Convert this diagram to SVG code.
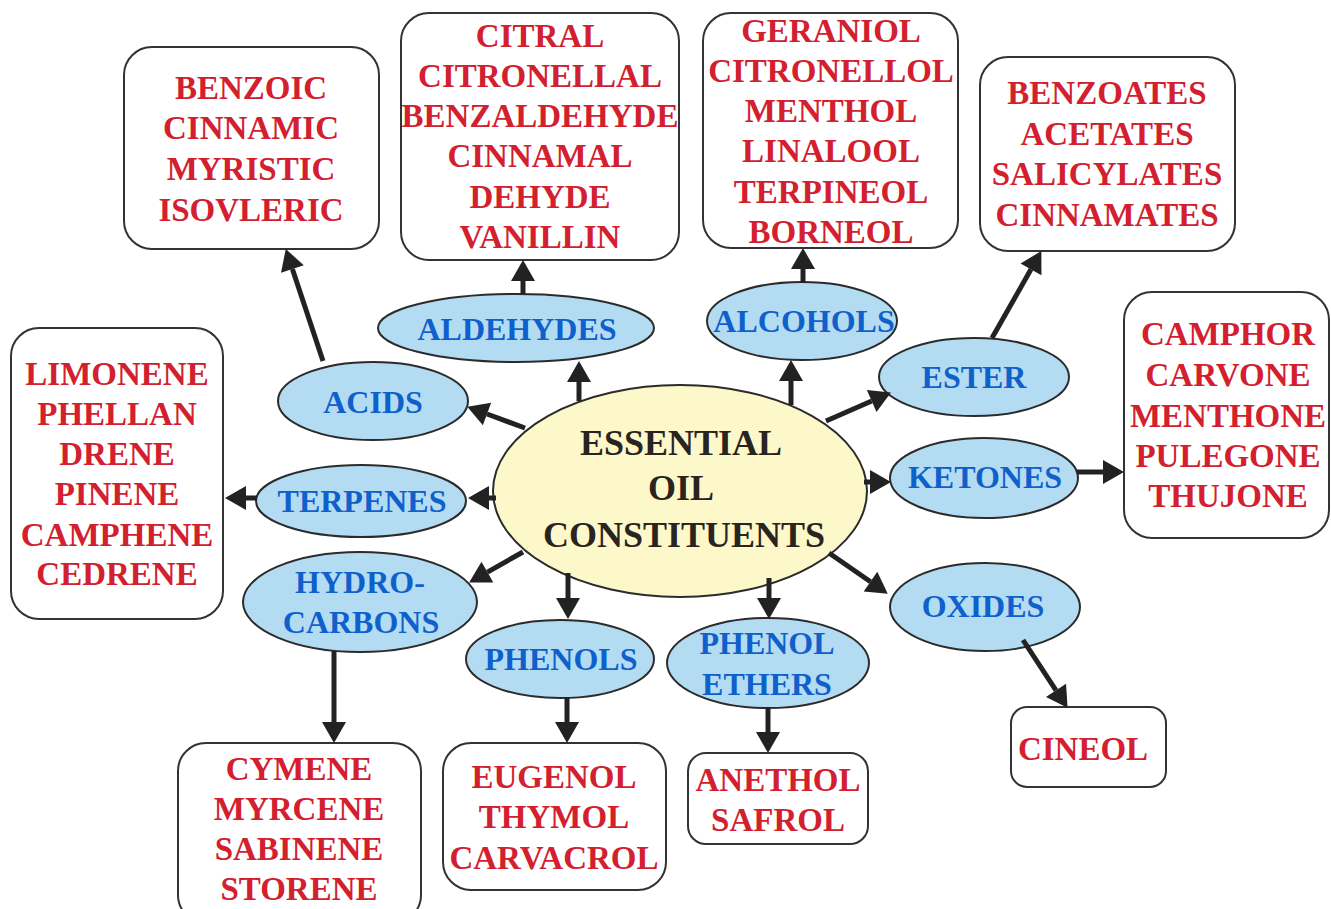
<svg xmlns="http://www.w3.org/2000/svg" width="1331" height="909" viewBox="0 0 1331 909">
<defs>
<style>
.bg{fill:#ffffff}
.box{fill:#ffffff;stroke:#333333;stroke-width:2}
.oval{fill:#b3dcf3;stroke:#2b2b2b;stroke-width:2}
.core{fill:#fcf8c9;stroke:#2b2b2b;stroke-width:2}
.red{font-family:"Liberation Serif","Times New Roman",serif;font-weight:bold;font-size:33px;fill:#d3202f;text-anchor:middle}
.blue{font-family:"Liberation Serif","Times New Roman",serif;font-weight:bold;font-size:32px;fill:#1060cc;text-anchor:middle}
.dark{font-family:"Liberation Serif","Times New Roman",serif;font-weight:bold;font-size:36px;fill:#2a2420;text-anchor:middle}
.con{stroke:#222222;stroke-width:5;fill:none;marker-end:url(#ah)}
</style>
<marker id="ah" markerUnits="userSpaceOnUse" markerWidth="21" markerHeight="24" refX="0" refY="12" orient="auto" overflow="visible">
<path d="M0,0 L21,12 L0,24 Z" fill="#222222"/>
</marker>
</defs>
<rect class="bg" x="0" y="0" width="1331" height="909"/>

<g id="center">
<ellipse class="core" cx="680" cy="491" rx="187" ry="106"/>
<text class="dark" x="681" y="455">ESSENTIAL</text>
<text class="dark" x="681" y="500">OIL</text>
<text class="dark" x="684" y="547">CONSTITUENTS</text>
</g>

<g id="acids">
<ellipse class="oval" cx="373" cy="401" rx="95" ry="39"/>
<text class="blue" x="373" y="413">ACIDS</text>
</g>
<g id="aldehydes">
<ellipse class="oval" cx="516" cy="328" rx="138" ry="34"/>
<text class="blue" x="517" y="340">ALDEHYDES</text>
</g>
<g id="alcohols">
<ellipse class="oval" cx="802" cy="321" rx="95" ry="39"/>
<text class="blue" x="804" y="332">ALCOHOLS</text>
</g>
<g id="ester">
<ellipse class="oval" cx="974" cy="377" rx="95" ry="39"/>
<text class="blue" x="974" y="388">ESTER</text>
</g>
<g id="ketones">
<ellipse class="oval" cx="984" cy="478" rx="94" ry="40"/>
<text class="blue" x="985" y="488">KETONES</text>
</g>
<g id="oxides">
<ellipse class="oval" cx="985" cy="607" rx="95" ry="44"/>
<text class="blue" x="983" y="617">OXIDES</text>
</g>
<g id="phenol-ethers">
<ellipse class="oval" cx="768" cy="663" rx="101" ry="45"/>
<text class="blue" x="767" y="654">PHENOL</text>
<text class="blue" x="767" y="695">ETHERS</text>
</g>
<g id="phenols">
<ellipse class="oval" cx="560" cy="659" rx="94" ry="39"/>
<text class="blue" x="561" y="670">PHENOLS</text>
</g>
<g id="hydrocarbons">
<ellipse class="oval" cx="360" cy="602" rx="117" ry="50"/>
<text class="blue" x="360" y="593">HYDRO-</text>
<text class="blue" x="361" y="633">CARBONS</text>
</g>
<g id="terpenes">
<ellipse class="oval" cx="361" cy="501" rx="105" ry="36"/>
<text class="blue" x="362" y="512">TERPENES</text>
</g>

<g id="acids-list">
<rect class="box" x="124" y="47" width="255" height="202" rx="28"/>
<text class="red" x="251" y="99">BENZOIC</text>
<text class="red" x="251" y="139">CINNAMIC</text>
<text class="red" x="251" y="180">MYRISTIC</text>
<text class="red" x="251" y="221">ISOVLERIC</text>
</g>
<g id="aldehydes-list">
<rect class="box" x="401" y="13" width="278" height="247" rx="28"/>
<text class="red" x="540" y="47">CITRAL</text>
<text class="red" x="540" y="87">CITRONELLAL</text>
<text class="red" x="540" y="127">BENZALDEHYDE</text>
<text class="red" x="540" y="167">CINNAMAL</text>
<text class="red" x="540" y="208">DEHYDE</text>
<text class="red" x="540" y="248">VANILLIN</text>
</g>
<g id="alcohols-list">
<rect class="box" x="703" y="13" width="255" height="235" rx="28"/>
<text class="red" x="831" y="42">GERANIOL</text>
<text class="red" x="831" y="82">CITRONELLOL</text>
<text class="red" x="831" y="122">MENTHOL</text>
<text class="red" x="831" y="162">LINALOOL</text>
<text class="red" x="831" y="203">TERPINEOL</text>
<text class="red" x="831" y="243">BORNEOL</text>
</g>
<g id="esters-list">
<rect class="box" x="980" y="57" width="255" height="194" rx="28"/>
<text class="red" x="1107" y="104">BENZOATES</text>
<text class="red" x="1107" y="145">ACETATES</text>
<text class="red" x="1107" y="185">SALICYLATES</text>
<text class="red" x="1107" y="226">CINNAMATES</text>
</g>
<g id="ketones-list">
<rect class="box" x="1124" y="292" width="205" height="246" rx="28"/>
<text class="red" x="1228" y="345">CAMPHOR</text>
<text class="red" x="1228" y="386">CARVONE</text>
<text class="red" x="1228" y="427">MENTHONE</text>
<text class="red" x="1228" y="467">PULEGONE</text>
<text class="red" x="1228" y="507">THUJONE</text>
</g>
<g id="terpenes-list">
<rect class="box" x="11" y="328" width="212" height="291" rx="28"/>
<text class="red" x="117" y="385">LIMONENE</text>
<text class="red" x="117" y="425">PHELLAN</text>
<text class="red" x="117" y="465">DRENE</text>
<text class="red" x="117" y="505">PINENE</text>
<text class="red" x="117" y="546">CAMPHENE</text>
<text class="red" x="117" y="585">CEDRENE</text>
</g>
<g id="hydrocarbons-list">
<rect class="box" x="178" y="743" width="243" height="180" rx="28"/>
<text class="red" x="299" y="780">CYMENE</text>
<text class="red" x="299" y="820">MYRCENE</text>
<text class="red" x="299" y="860">SABINENE</text>
<text class="red" x="299" y="900">STORENE</text>
</g>
<g id="phenols-list">
<rect class="box" x="443" y="743" width="223" height="147" rx="28"/>
<text class="red" x="554" y="788">EUGENOL</text>
<text class="red" x="554" y="828">THYMOL</text>
<text class="red" x="554" y="869">CARVACROL</text>
</g>
<g id="phenol-ethers-list">
<rect class="box" x="688" y="753" width="180" height="91" rx="18"/>
<text class="red" x="778" y="791">ANETHOL</text>
<text class="red" x="778" y="831">SAFROL</text>
</g>
<g id="oxides-list">
<rect class="box" x="1011" y="707" width="155" height="80" rx="16"/>
<text class="red" x="1083" y="760">CINEOL</text>
</g>

<g id="connectors">
<line class="con" x1="525" y1="428" x2="487" y2="414"/>
<line class="con" x1="323" y1="361" x2="292.4" y2="269"/>
<line class="con" x1="579" y1="401" x2="579" y2="382"/>
<line class="con" x1="523" y1="294" x2="523" y2="281"/>
<line class="con" x1="791" y1="405" x2="791" y2="381"/>
<line class="con" x1="803" y1="283" x2="803" y2="269"/>
<line class="con" x1="826" y1="421" x2="871.7" y2="401"/>
<line class="con" x1="992" y1="338" x2="1031" y2="269.3"/>
<line class="con" x1="864" y1="482" x2="870" y2="482"/>
<line class="con" x1="1077" y1="472" x2="1103" y2="472"/>
<line class="con" x1="829" y1="553" x2="870.5" y2="581.7"/>
<line class="con" x1="1023" y1="640" x2="1056" y2="690.3"/>
<line class="con" x1="769" y1="578" x2="769" y2="598"/>
<line class="con" x1="768" y1="707" x2="768" y2="732"/>
<line class="con" x1="568" y1="573" x2="568" y2="598"/>
<line class="con" x1="567" y1="697" x2="567" y2="722"/>
<line class="con" x1="523" y1="552" x2="487.4" y2="572.1"/>
<line class="con" x1="334" y1="651" x2="334" y2="722"/>
<line class="con" x1="496" y1="498" x2="489" y2="498"/>
<line class="con" x1="257" y1="498" x2="246" y2="498"/>
</g>
</svg>
